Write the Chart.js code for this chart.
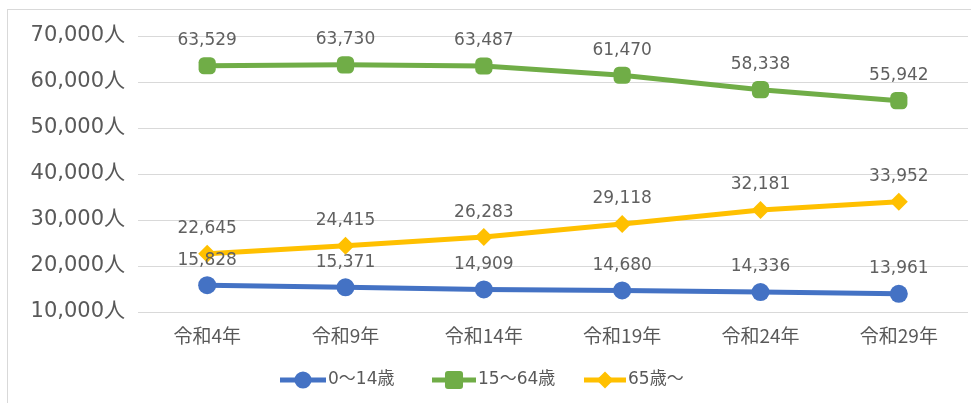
<!DOCTYPE html>
<html>
<head>
<meta charset="utf-8">
<script src="https://cdn.jsdelivr.net/npm/chart.js@4.4.1/dist/chart.umd.min.js"></script>
<style>
  html, body { margin: 0; padding: 0; background: #fff; overflow: hidden; }
  #wrap { position: relative; width: 971px; height: 403px; overflow: hidden; }
  #frame { position: absolute; left: 7px; top: 9px; right: -4px; bottom: -4px;
           border-left: 1px solid #d9d9d9; border-top: 1px solid #d9d9d9; }
  canvas { position: absolute; left: 0; top: 0; }
</style>
</head>
<body>
<div id="wrap">
  <div id="frame"></div>
  <canvas id="c" width="971" height="403"></canvas>
</div>
<script>
// 年次別・年齢3区分別の人口推計
const categories = ['令和4年', '令和9年', '令和14年', '令和19年', '令和24年', '令和29年'];
const youth   = [15828, 15371, 14909, 14680, 14336, 13961];   // 0～14歳
const working = [63529, 63730, 63487, 61470, 58338, 55942];   // 15～64歳
const elderly = [22645, 24415, 26283, 29118, 32181, 33952];   // 65歳～
const yTicks  = [10000, 20000, 30000, 40000, 50000, 60000, 70000];

const TEXT = '#595959';
const FONT = '"DejaVu Sans", "Noto Sans CJK JP", sans-serif';
const CJK  = '"Noto Sans CJK JP", sans-serif';

const series = [
  { label: '0～14歳',  data: youth,   color: '#4472C4', style: 'circle',      r: 9 },
  { label: '15～64歳', data: working, color: '#70AD47', style: 'rectRounded', r: 10 },
  { label: '65歳～',   data: elderly, color: '#FFC000', style: 'rectRot',     r: 9 }
];

// value labels above each point
const valueLabels = {
  id: 'valueLabels',
  afterDatasetsDraw(chart) {
    const ctx = chart.ctx;
    ctx.save();
    ctx.font = '17px ' + FONT;
    ctx.fillStyle = '#606060';
    ctx.textAlign = 'center';
    ctx.textBaseline = 'middle';
    chart.data.datasets.forEach((ds, i) => {
      chart.getDatasetMeta(i).data.forEach((pt, j) => {
        ctx.fillText(ds.data[j].toLocaleString('en-US'), pt.x, pt.y - 25);
      });
    });
    ctx.restore();
  }
};

function marker(ctx, style, x, y, r, color) {
  ctx.fillStyle = color;
  ctx.beginPath();
  if (style === 'circle') {
    ctx.arc(x, y, r, 0, Math.PI * 2);
  } else if (style === 'rectRot') {
    ctx.moveTo(x, y - r); ctx.lineTo(x + r, y); ctx.lineTo(x, y + r); ctx.lineTo(x - r, y);
    ctx.closePath();
  } else {
    const s = r * 0.95, c = 3;
    ctx.roundRect(x - s, y - s, 2 * s, 2 * s, c);
  }
  ctx.fill();
}

// line-with-marker legend below the axis
const lineLegend = {
  id: 'lineLegend',
  afterDraw(chart) {
    const ctx = chart.ctx;
    const y = 380;
    const items = [
      { x: 280, w: 46 },
      { x: 432, w: 44 },
      { x: 584, w: 42 }
    ];
    ctx.save();
    ctx.font = '17px ' + FONT;
    ctx.textBaseline = 'middle';
    ctx.textAlign = 'left';
    series.forEach((s, i) => {
      const it = items[i];
      ctx.strokeStyle = s.color;
      ctx.lineWidth = 5;
      ctx.beginPath();
      ctx.moveTo(it.x, y); ctx.lineTo(it.x + it.w, y);
      ctx.stroke();
      marker(ctx, s.style, it.x + it.w / 2, y, s.r * 0.95, s.color);
      ctx.fillStyle = TEXT;
      ctx.fillText(s.label, it.x + it.w + 2, y);
    });
    ctx.restore();
  }
};

new Chart(document.getElementById('c'), {
  type: 'line',
  data: {
    labels: categories,
    datasets: series.map(s => ({
      label: s.label,
      data: s.data,
      borderColor: s.color,
      backgroundColor: s.color,
      borderWidth: 5,
      pointStyle: s.style,
      pointRadius: s.r,
      pointHoverRadius: s.r,
      pointBorderWidth: 0,
      tension: 0
    }))
  },
  options: {
    responsive: false,
    animation: false,
    events: [],
    layout: { autoPadding: false, padding: { top: 36, right: 3, left: 0, bottom: 0 } },
    plugins: { legend: { display: false }, tooltip: { enabled: false } },
    scales: {
      x: {
        offset: true,
        grid: { display: false, drawTicks: false },
        border: { display: false },
        ticks: { color: TEXT, font: { family: CJK, size: 19 }, padding: 12 },
        afterFit(scale) {
          scale.height = 91;
          scale.paddingLeft = 0;
          scale.paddingRight = 0;
        }
      },
      y: {
        min: 10000,
        max: 70000,
        afterBuildTicks(scale) { scale.ticks = yTicks.map(v => ({ value: v })); },
        grid: { color: '#d9d9d9', lineWidth: 1, drawTicks: false },
        border: { display: false },
        ticks: {
          color: TEXT,
          font: { family: FONT, size: 21 },
          padding: 13,
          callback: v => v.toLocaleString('en-US') + '人'
        },
        afterFit(scale) { scale.width = 138; }
      }
    }
  },
  plugins: [valueLabels, lineLegend]
});
</script>
</body>
</html>
